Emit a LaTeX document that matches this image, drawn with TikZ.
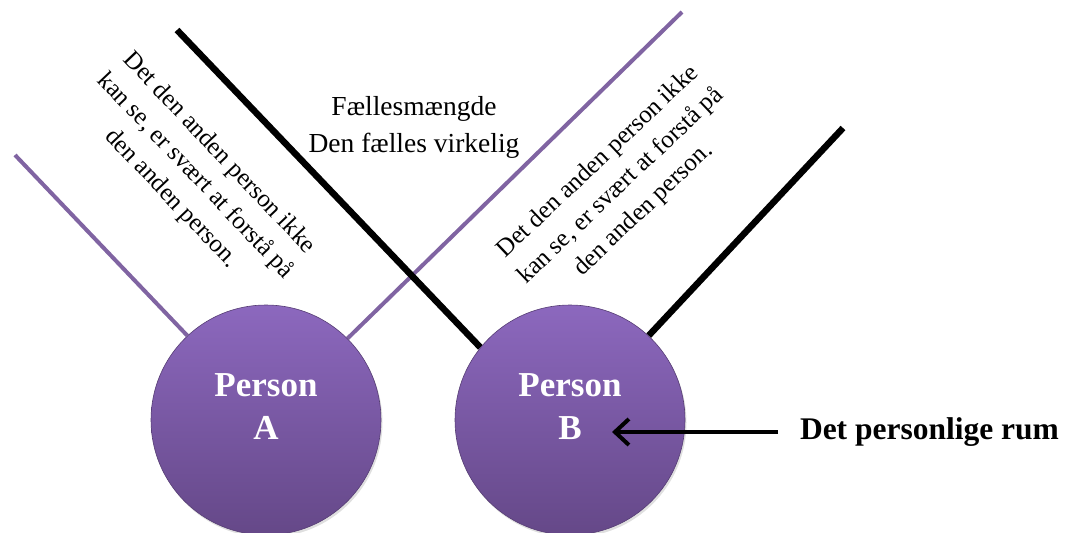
\documentclass[tikz,border=0pt]{standalone}
\usepackage{fontspec}
\setmainfont{Liberation Serif}
\usetikzlibrary{arrows.meta,shadows,backgrounds}
\definecolor{plin}{HTML}{8064A2}
\definecolor{ptop}{HTML}{8C68BE}
\definecolor{pbot}{HTML}{654888}
\begin{document}
\begin{tikzpicture}[x=1pt,y=-1pt,
  person/.style={circle, minimum size=230pt, inner sep=0pt, top color=ptop, bottom color=pbot,
    draw=pbot!85!black, line width=0.6pt,
    drop shadow={opacity=0.25, shadow xshift=1.5pt, shadow yshift=-2.5pt}},
  pname/.style={text=white, font=\fontsize{35}{43}\selectfont\bfseries, align=center},
  purpleline/.style={draw=plin, line width=4pt},
  blackline/.style={draw=black, line width=6.5pt},
  rottext/.style={font=\fontsize{25}{33}\selectfont, align=center},
  midtext/.style={font=\fontsize{27.5}{37}\selectfont, align=center},
  pointer/.style={draw=black, line width=4pt, -{Straight Barb[length=14pt,width=26pt,line width=4pt]}},
  ruml/.style={font=\fontsize{31.5}{36}\selectfont\bfseries, anchor=west, inner sep=0pt, outer xsep=22pt}
]
\useasboundingbox (0,0) rectangle (1066,533);

\node[person] (A) at (266,420) {};
\node[person] (B) at (570,420) {};
\node[pname] (Atext) at ([yshift=13pt]A.center) {Person\\A};
\node[pname] (Btext) at ([yshift=13pt]B.center) {Person\\B};

\coordinate (a1) at (15,155);
\coordinate (a2) at (682,12);
\coordinate (b1) at (177,30);
\coordinate (b2) at (843,128);

\begin{scope}[on background layer]
  \draw[purpleline] (A.133) -- (a1);
  \draw[purpleline] (A.45) -- (a2);
  \draw[blackline] (B.141) -- (b1);
  \draw[blackline] (B.47) -- (b2);
\end{scope}

\node[midtext] (mid) at (414,127) {Fællesmængde\\Den fælles virkelig};
\node[rottext, rotate=-46.5] (lt) at (195,176) {Det den anden person ikke\\kan se, er svært at forstå på\\den anden person.};
\node[rottext, rotate=43.5] (rt) at (621,186) {Det den anden person ikke\\kan se, er svært at forstå på\\den anden person.};

\node[ruml] (rum) at (778,432) {Det personlige rum};
\coordinate (tip) at (612,432);
\draw[pointer] (rum.west) -- (tip);
\end{tikzpicture}
\end{document}
